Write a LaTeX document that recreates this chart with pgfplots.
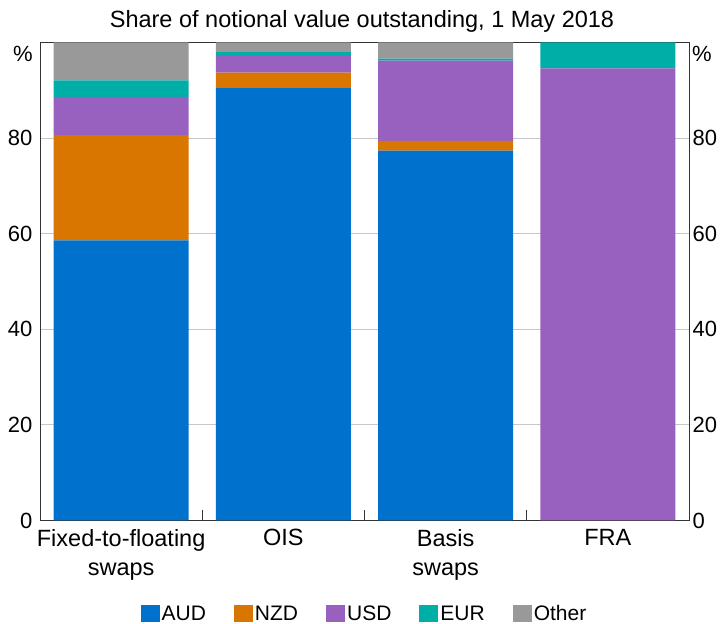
\documentclass[border=0pt]{standalone}
\usepackage{pgfplots}
\pgfplotsset{compat=1.18}
\usepackage{fontspec}
\setmainfont{Liberation Sans}

\definecolor{cAUD}{RGB}{0,114,206}
\definecolor{cNZD}{RGB}{216,118,0}
\definecolor{cUSD}{RGB}{153,97,191}
\definecolor{cEUR}{RGB}{0,174,168}
\definecolor{cOTH}{RGB}{153,153,153}

\newcommand{\lbl}{\fontsize{21}{28}\selectfont}
\newcommand{\ylbl}{\fontsize{22}{28}\selectfont}
\newcommand{\xlbl}{\fontsize{23.5}{29}\selectfont}

\begin{document}
\begin{tikzpicture}
\useasboundingbox (0pt,0pt) rectangle (721pt,624pt);
\node[font=\fontsize{23.5}{28}\selectfont] at (362pt,603pt) {Share of notional value outstanding, 1 May 2018};
% per cent signs above the tick labels
\node[font=\ylbl, anchor=east, inner sep=0pt] at (33pt,570pt) {\%};
\node[font=\ylbl, anchor=west, inner sep=0pt] at (692pt,570pt) {\%};

\pgfplotsset{common/.style={
    at={(40pt,103.5pt)}, anchor=south west, scale only axis,
    width=649pt, height=478pt,
    xmin=-0.5, xmax=3.5, ymin=0, ymax=100,
    ytick={0,20,40,60,80},
    ytick style={draw=none},
    yticklabel style={font=\ylbl},
    /pgf/number format/assume math mode=true,
    axis line style={black!80, line width=0.8pt},
}}

\begin{axis}[common,
    ybar stacked, bar width=0.832,
    ymajorgrids, grid style={black!22, line width=0.8pt},
    xtick={0.5,1.5,2.5}, xticklabels={},
    xtick pos=bottom, tick align=inside,
    major tick length=10pt,
    xtick style={black!80, line width=0.8pt},
    extra x ticks={0,1,2,3},
    extra x tick labels={Fixed-to-floating\\swaps, OIS, Basis\\swaps, FRA},
    extra x tick style={major tick length=0pt, grid=none,
        xticklabel style={align=center, font=\xlbl, yshift=-5pt}},
    yticklabel style={xshift=-4pt},
    legend style={at={(0.5,-0.195)}, anchor=center, legend columns=-1,
        draw=none, font=\lbl,
        /tikz/every even column/.append style={column sep=26pt}},
    legend image code/.code={\fill[#1] (0pt,-8pt) rectangle (19pt,9pt);},
]
\addplot[fill=cAUD, draw=none] coordinates {(0,58.6) (1,90.6) (2,77.4) (3,0)};
\addplot[fill=cNZD, draw=none] coordinates {(0,22.0) (1,3.1) (2,2.0) (3,0)};
\addplot[fill=cUSD, draw=none] coordinates {(0,8.0) (1,3.5) (2,16.8) (3,94.6)};
\addplot[fill=cEUR, draw=none] coordinates {(0,3.5) (1,0.8) (2,0.4) (3,5.4)};
\addplot[fill=cOTH, draw=none] coordinates {(0,7.9) (1,2.0) (2,3.4) (3,0)};
\legend{AUD, NZD, USD, EUR, Other}
\end{axis}

\begin{axis}[common,
    axis y line*=right, axis x line=none,
    yticklabel pos=right,
    yticklabel style={xshift=0pt},
]
\end{axis}
\end{tikzpicture}
\end{document}
